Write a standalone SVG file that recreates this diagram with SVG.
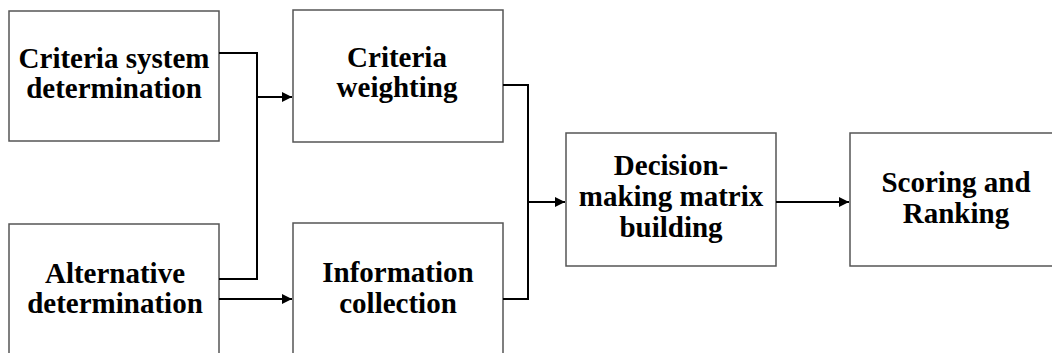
<svg xmlns="http://www.w3.org/2000/svg" width="1052" height="353" viewBox="0 0 1052 353">
<defs>
<style>
.box{fill:#fff;stroke:#555;stroke-width:1.5}
.t{font-family:"Liberation Serif","Times New Roman",serif;font-weight:bold;font-size:29px;fill:#000;text-anchor:middle}
.c{fill:none;stroke:#000;stroke-width:2}
</style>
<marker id="ah" viewBox="0 0 10 10" refX="10" refY="5" markerWidth="5" markerHeight="5" orient="auto" markerUnits="strokeWidth">
<path d="M0,0 L10,5 L0,10 z" fill="#000"/>
</marker>
</defs>
<rect width="1052" height="353" fill="#fff"/>
<g id="n1"><rect class="box" x="9" y="11" width="210" height="130"/>
<text class="t" x="114" y="68">Criteria system</text><text class="t" x="114" y="98">determination</text></g>
<g id="n2"><rect class="box" x="9" y="224" width="210" height="140"/>
<text class="t" x="115" y="283">Alternative</text><text class="t" x="115" y="313">determination</text></g>
<g id="n3"><rect class="box" x="293" y="10" width="210" height="132"/>
<text class="t" x="397" y="67">Criteria</text><text class="t" x="397" y="97">weighting</text></g>
<g id="n4"><rect class="box" x="293" y="223" width="210" height="140"/>
<text class="t" x="398" y="282">Information</text><text class="t" x="398" y="313">collection</text></g>
<g id="n5"><rect class="box" x="566" y="133" width="210" height="133"/>
<text class="t" x="671" y="175">Decision-</text><text class="t" x="671" y="206">making matrix</text><text class="t" x="671" y="237">building</text></g>
<g id="n6"><rect class="box" x="850" y="133" width="215" height="133"/>
<text class="t" x="956" y="192">Scoring and</text><text class="t" x="956" y="223">Ranking</text></g>
<g id="connectors">
<polyline class="c" points="219,53 257,53 257,279 219,279"/>
<line class="c" x1="257" y1="97" x2="292" y2="97" marker-end="url(#ah)"/>
<line class="c" x1="219" y1="299" x2="292" y2="299" marker-end="url(#ah)"/>
<polyline class="c" points="503,85 528,85 528,299 503,299"/>
<line class="c" x1="528" y1="202" x2="565" y2="202" marker-end="url(#ah)"/>
<line class="c" x1="776" y1="202" x2="849" y2="202" marker-end="url(#ah)"/>
</g>
</svg>
